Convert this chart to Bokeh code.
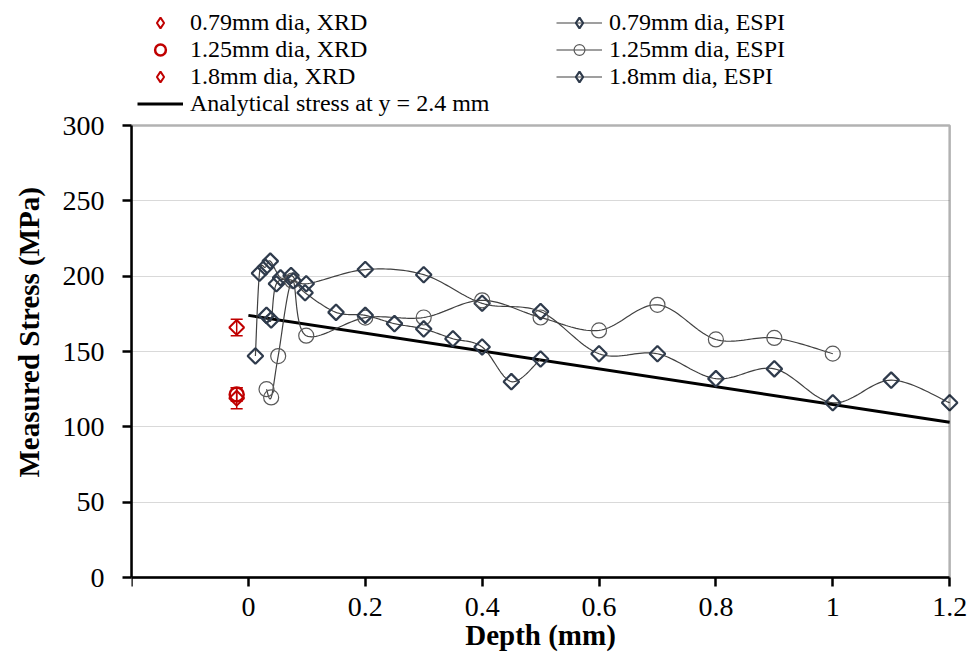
import numpy as np
from bokeh.plotting import figure
from bokeh.models import (Range1d, FixedTicker, Legend, LegendItem, Whisker,
                          ColumnDataSource, TeeHead, BoxAnnotation, Title)
from bokeh.embed import file_html
from bokeh.resources import INLINE

# ---------------- data ----------------
x_ticks = [-0.2, 0, 0.2, 0.4, 0.6, 0.8, 1, 1.2]
x_tick_labels = ["", "0", "0.2", "0.4", "0.6", "0.8", "1", "1.2"]
y_ticks = [0, 50, 100, 150, 200, 250, 300]

espi_079_x = [0.012, 0.019, 0.029, 0.0375, 0.055, 0.073, 0.099, 0.2, 0.3, 0.4, 0.5,
              0.6, 0.7, 0.8, 0.9, 1.0, 1.1, 1.2]
espi_079_y = [147, 202, 206, 210, 199, 200.5, 195, 204.4, 201, 182, 176.5,
              148.5, 148.5, 132, 138.5, 116, 131, 116]

espi_125_x = [0.031, 0.039, 0.051, 0.075, 0.099, 0.2, 0.3, 0.4, 0.5, 0.6, 0.7, 0.8, 0.9, 1.0]
espi_125_y = [125, 119.5, 147, 197, 160.5, 172.5, 172.6, 184, 172.6, 164, 181, 158, 159, 148.6]

espi_18_x = [0.031, 0.039, 0.048, 0.077, 0.097, 0.15, 0.2, 0.25, 0.3, 0.35, 0.4, 0.45, 0.5]
espi_18_y = [174, 171, 195, 197, 189, 176, 174, 168.5, 165, 158.5, 153, 130, 145]

xrd_x = [-0.02, -0.02, -0.02]
xrd_y = [166, 121.5, 119]
xrd_err = [5.5, 4.5, 7]
xrd_labels = ["0.79mm dia, XRD", "1.25mm dia, XRD", "1.8mm dia, XRD"]
espi_labels = ["0.79mm dia, ESPI", "1.25mm dia, ESPI", "1.8mm dia, ESPI"]
analytical_label = "Analytical stress at y = 2.4 mm"

analytical_x = [0, 1.2]
analytical_y = [174, 103]

# ---------------- helpers ----------------
def smooth(xs, ys, n=24):
    P = np.column_stack([xs, ys]).astype(float)
    m = len(P)
    out = [P[0]]
    t = np.linspace(0, 1, n)[1:, None]
    for i in range(m - 1):
        p0 = P[max(i - 1, 0)]
        p1 = P[i]
        p2 = P[i + 1]
        p3 = P[min(i + 2, m - 1)]
        c1 = p1 + (p2 - p0) / 6.0
        c2 = p2 - (p3 - p1) / 6.0
        seg = (1 - t) ** 3 * p1 + 3 * (1 - t) ** 2 * t * c1 + 3 * (1 - t) * t ** 2 * c2 + t ** 3 * p2
        out.extend(seg)
    out = np.array(out)
    return out[:, 0], out[:, 1]

FONT = "Liberation Serif"
RED = "#C00000"
DARK = "#2F3B4C"
GRAY = "#595959"
LINE = "#404040"

# ranges are extended beyond the plot box (legend above, axis labels below/right);
# the plot box itself covers x -0.2..1.2 and y 0..300
p = figure(width=980, height=657, x_range=Range1d(-0.2, 1.2528), y_range=Range1d(-53.1, 383),
           output_backend="svg", toolbar_location=None,
           min_border_left=127, min_border_right=0, min_border_top=0, min_border_bottom=0)
p.background_fill_color = "white"
p.border_fill_color = "white"
p.outline_line_color = None

p.xgrid.visible = False
p.ygrid.ticker = FixedTicker(ticks=y_ticks[1:-1])
p.ygrid.grid_line_color = "#D9D9D9"
p.ygrid.grid_line_width = 1
try:
    p.ygrid[0].cross_bounds = (x_ticks[0], x_ticks[-1])
except Exception:
    pass

# plot box
p.add_layout(BoxAnnotation(left=x_ticks[0], right=x_ticks[-1],
                           bottom=y_ticks[0], top=y_ticks[-1], fill_alpha=0,
                           line_color="black", line_width=2.5, level="overlay"))

p.xaxis.ticker = FixedTicker(ticks=x_ticks)
p.xaxis.major_label_overrides = dict(zip(x_ticks, x_tick_labels))
p.xaxis.fixed_location = y_ticks[0]
p.xaxis.bounds = (x_ticks[0], x_ticks[-1])
p.yaxis.ticker = FixedTicker(ticks=y_ticks)
p.yaxis.bounds = (y_ticks[0], y_ticks[-1])
for ax in (p.xaxis[0], p.yaxis[0]):
    ax.axis_line_color = "black"
    ax.axis_line_width = 2.5
    ax.major_tick_line_color = "black"
    ax.major_tick_line_width = 2.5
    ax.major_tick_out = 9
    ax.major_tick_in = 0
    ax.minor_tick_line_color = None
    ax.major_label_text_font = FONT
    ax.major_label_text_font_size = "28px"
    ax.major_label_text_color = "black"
    ax.axis_label_text_font = FONT
    ax.axis_label_text_font_size = "29px"
    ax.axis_label_text_font_style = "bold"
    ax.axis_label_text_color = "black"
p.xaxis.axis_label = "Depth (mm)"
p.xaxis.major_label_standoff = 11
p.xaxis.axis_label_standoff = 0
p.yaxis.major_label_standoff = 18

p.add_layout(Title(text="Measured Stress (MPa)", align="left", offset=180,
                   vertical_align="top",
                   text_font=FONT, text_font_size="29px", text_font_style="bold",
                   text_color="black", standoff=25), "left")

# analytical line
r_an = p.line(analytical_x, analytical_y, line_color="black", line_width=3)

# ESPI series
def espi(xs, ys, marker, color, size, angle, lw):
    sx, sy = smooth(xs, ys)
    rl = p.line(sx, sy, line_color=LINE, line_width=1.2)
    rm = p.scatter(xs, ys, marker=marker, size=size, angle=angle, fill_color=None,
                   line_color=color, line_width=lw)
    return rl, rm

l079, m079 = espi(espi_079_x, espi_079_y, "square", DARK, 11, np.pi / 4, 2.2)
l125, m125 = espi(espi_125_x, espi_125_y, "circle", GRAY, 15, 0, 1.2)
l18, m18 = espi(espi_18_x, espi_18_y, "square", DARK, 11, np.pi / 4, 2.2)

# XRD
src = ColumnDataSource(dict(x=xrd_x, y=xrd_y,
                            upper=[a + b for a, b in zip(xrd_y, xrd_err)],
                            lower=[a - b for a, b in zip(xrd_y, xrd_err)]))
p.add_layout(Whisker(base="x", upper="upper", lower="lower", source=src, dimension="height",
                     line_color=RED, line_width=1.5,
                     upper_head=TeeHead(size=12, line_color=RED, line_width=1.5),
                     lower_head=TeeHead(size=12, line_color=RED, line_width=1.5)))
x079 = p.scatter([xrd_x[0]], [xrd_y[0]], marker="square", angle=np.pi / 4, size=10.5,
                 fill_color=None, line_color=RED, line_width=2)
x125 = p.scatter([xrd_x[1]], [xrd_y[1]], marker="circle", size=14,
                 fill_color=None, line_color=RED, line_width=2.5)
x18 = p.scatter([xrd_x[2]], [xrd_y[2]], marker="square", angle=np.pi / 4, size=10.5,
                fill_color=None, line_color=RED, line_width=2)

# legend-only diamond glyphs (hidden in the plot; markers in legends are drawn unrotated)
def legend_diamond(xs, ys, color, lw):
    r = p.scatter(xs, ys, marker="diamond", size=20, fill_color=None,
                  line_color=color, line_width=lw)
    r.visible = False
    return r

lg_x079 = legend_diamond(xrd_x[:1], xrd_y[:1], RED, 2)
lg_x18 = legend_diamond(xrd_x[2:], xrd_y[2:], RED, 2)
lg_e079 = legend_diamond(espi_079_x, espi_079_y, DARK, 2.2)
lg_e18 = legend_diamond(espi_18_x, espi_18_y, DARK, 2.2)

items = [LegendItem(label=xrd_labels[0], renderers=[lg_x079]),
         LegendItem(label=espi_labels[0], renderers=[l079, lg_e079]),
         LegendItem(label=xrd_labels[1], renderers=[x125]),
         LegendItem(label=espi_labels[1], renderers=[l125, m125]),
         LegendItem(label=xrd_labels[2], renderers=[lg_x18]),
         LegendItem(label=espi_labels[2], renderers=[l18, lg_e18]),
         LegendItem(label=analytical_label, renderers=[r_an])]
legend = Legend(items=items, location=(6, 540), orientation="horizontal", nrows=4,
                label_text_font=FONT, label_text_font_size="24px", label_text_color="black",
                glyph_width=46, glyph_height=27, label_height=27, label_width=366,
                spacing=0, padding=0, margin=0, label_standoff=7,
                inactive_fill_alpha=0,
                background_fill_alpha=0, border_line_alpha=0)
p.add_layout(legend)

open("out.html", "w").write(file_html(p, INLINE))
